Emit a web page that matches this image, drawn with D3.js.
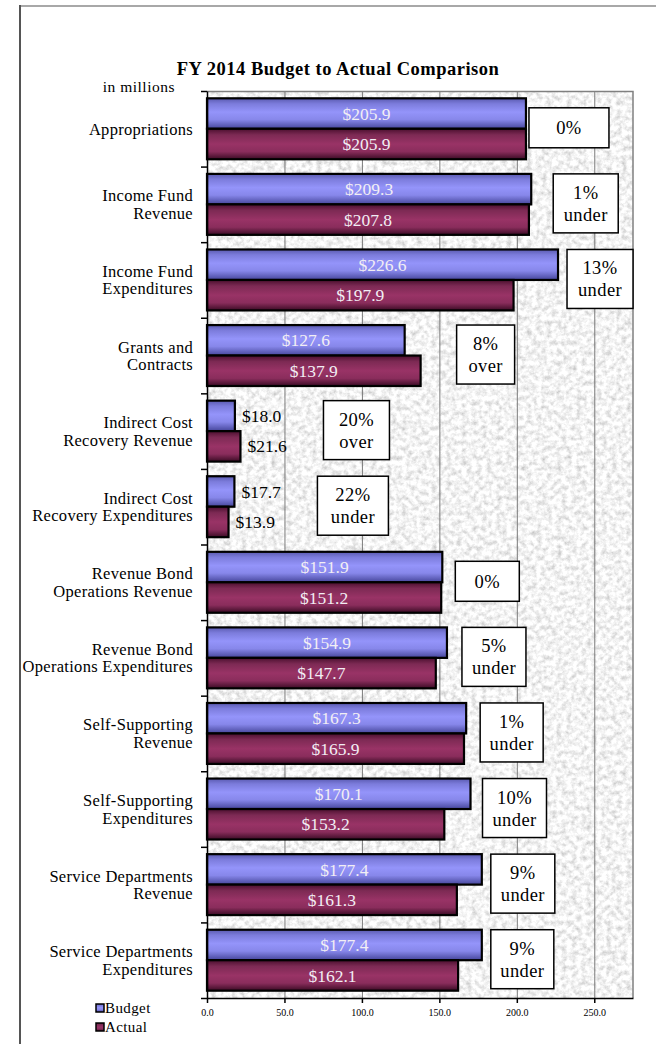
<!DOCTYPE html>
<html>
<head>
<meta charset="utf-8">
<script src="https://cdn.jsdelivr.net/npm/d3@7"></script>
<style>
    body { margin: 0; background: #fff; }
    svg { display: block; font-family: "Liberation Serif", "Times New Roman", serif; }
</style>
</head>
<body>
<div id="chart"></div>
<script>
    // chart data (in millions)
    var categories = [
        "Appropriations",
        "Income Fund|Revenue",
        "Income Fund|Expenditures",
        "Grants and|Contracts",
        "Indirect Cost|Recovery Revenue",
        "Indirect Cost|Recovery Expenditures",
        "Revenue Bond|Operations Revenue",
        "Revenue Bond|Operations Expenditures",
        "Self-Supporting|Revenue",
        "Self-Supporting|Expenditures",
        "Service Departments|Revenue",
        "Service Departments|Expenditures"
    ];
    var budget = [205.9, 209.3, 226.6, 127.6, 18.0, 17.7, 151.9, 154.9, 167.3, 170.1, 177.4, 177.4];
    var actual = [205.9, 207.8, 197.9, 137.9, 21.6, 13.9, 151.2, 147.7, 165.9, 153.2, 161.3, 162.1];
    var variancePct = [0, 1, 13, 8, 20, 22, 0, 5, 1, 10, 9, 9];
    var seriesNames = ["Budget", "Actual"];
    var xTicks = [0, 50, 100, 150, 200, 250];

    // layout only: px gap after longest bar, and width of each note box
    var noteGap = [3, 22, 9, 36, 83, 83, 13, 15, 14, 12, 9, 9];
    var noteW = [80, 65, 66, 58, 66, 71, 64, 64, 63, 64, 64, 63];

    var svgWidth = 656, svgHeight = 1044;
    var margin = { top: 91, left: 207, right: 23, bottom: 46 };
    var chartWidth = svgWidth - margin.left - margin.right;
    var chartHeight = svgHeight - margin.top - margin.bottom;

    var svg = d3.select("#chart").append("svg")
        .attr("width", svgWidth)
        .attr("height", svgHeight);

    var defs = svg.append("defs");

    // granite texture for plot area
    var filt = defs.append("filter").attr("id", "granite")
        .attr("x", 0).attr("y", 0).attr("width", 1).attr("height", 1);
    filt.append("feTurbulence")
        .attr("type", "fractalNoise")
        .attr("baseFrequency", "0.2")
        .attr("numOctaves", 4)
        .attr("seed", 11);
    filt.append("feColorMatrix")
        .attr("type", "matrix")
        .attr("values", "0.8 0 0 0 0.5  0.8 0 0 0 0.5  0.8 0 0 0 0.5  0 0 0 0 1");

    // bar gradients
    function addGrad(id, stops) {
        var g = defs.append("linearGradient").attr("id", id)
            .attr("x1", 0).attr("y1", 0).attr("x2", 0).attr("y2", 1);
        stops.forEach(function (s) {
            g.append("stop").attr("offset", s[0]).attr("stop-color", s[1]);
        });
    }
    addGrad("gBudget", [[0, "#5a5ab0"], [0.18, "#7c7cdc"], [0.45, "#9494fa"], [0.7, "#8787ea"], [1, "#45459a"]]);
    addGrad("gActual", [[0, "#4a0f2e"], [0.2, "#7d2a54"], [0.5, "#993366"], [0.75, "#8a2d5c"], [1, "#3a0b24"]]);
    var fills = ["url(#gBudget)", "url(#gActual)"];

    // outer frame
    svg.append("line").attr("x1", 20).attr("x2", svgWidth).attr("y1", 6).attr("y2", 6)
        .attr("stroke", "#a8a8a8").attr("stroke-width", 2);
    svg.append("line").attr("x1", 20).attr("x2", 20).attr("y1", 5).attr("y2", svgHeight)
        .attr("stroke", "#555").attr("stroke-width", 2);

    // title
    svg.append("text")
        .attr("x", 338).attr("y", 75)
        .attr("text-anchor", "middle")
        .style("font-size", "18.5px").style("font-weight", "bold")
        .style("letter-spacing", "0.5px")
        .text("FY 2014 Budget to Actual Comparison");

    svg.append("text")
        .attr("x", 175).attr("y", 92)
        .attr("text-anchor", "end")
        .style("font-size", "15.5px")
        .style("letter-spacing", "0.5px")
        .text("in millions");

    // scales
    var xScale = d3.scaleLinear().domain([0, 275]).range([0, chartWidth]);
    var yScale = d3.scaleBand().domain(d3.range(categories.length)).range([0, chartHeight]);
    var ySub = d3.scaleBand().domain(seriesNames)
        .range([0, yScale.bandwidth()]).paddingInner(0).paddingOuter(0.24);
    var yEdge = d3.scaleLinear().domain([0, categories.length]).range([0, chartHeight]);

    var chartLayer = svg.append("g")
        .attr("transform", "translate(" + [margin.left, margin.top] + ")");

    // plot background
    chartLayer.append("rect")
        .attr("width", chartWidth).attr("height", chartHeight)
        .attr("filter", "url(#granite)");

    // grid
    chartLayer.append("g")
        .attr("class", "grid-x")
        .attr("transform", "translate(0," + chartHeight + ")")
        .call(d3.axisBottom(xScale).tickValues(xTicks.slice(1))
            .tickSizeInner(-chartHeight).tickSizeOuter(0).tickFormat(""))
        .call(function (g) {
            g.select(".domain").remove();
            g.selectAll("line").attr("stroke", "#7a7a7a");
        });

    // plot border top/right
    chartLayer.append("path")
        .attr("d", "M0,0.5H" + chartWidth + "V" + chartHeight)
        .attr("fill", "none").attr("stroke", "#808080").attr("stroke-width", 1.5);

    // bars
    var rows = categories.map(function (c, i) {
        return { i: i, vals: [budget[i], actual[i]] };
    });

    var gs = chartLayer.selectAll("g.cat")
        .data(rows)
        .enter().append("g")
        .attr("class", "cat")
        .attr("transform", function (d) { return "translate(0," + yScale(d.i) + ")"; });

    gs.selectAll("rect.bar")
        .data(function (d) { return d.vals.map(function (v, k) { return { v: v, k: k }; }); })
        .enter().append("rect")
        .attr("class", "bar")
        .attr("x", 0)
        .attr("y", function (d) { return ySub(seriesNames[d.k]); })
        .attr("width", function (d) { return xScale(d.v); })
        .attr("height", ySub.bandwidth())
        .attr("fill", function (d) { return fills[d.k]; })
        .attr("stroke", "#000")
        .attr("stroke-width", 2.2);

    gs.selectAll("text.val")
        .data(function (d) { return d.vals.map(function (v, k) { return { v: v, k: k }; }); })
        .enter().append("text")
        .attr("class", "val")
        .attr("x", function (d) { return d.v > 60 ? xScale(d.v) / 2 : xScale(d.v) + 7; })
        .attr("y", function (d) { return ySub(seriesNames[d.k]) + ySub.bandwidth() / 2; })
        .attr("dy", "0.35em")
        .attr("text-anchor", function (d) { return d.v > 60 ? "middle" : "start"; })
        .attr("fill", function (d) { return d.v > 60 ? "#f2eef4" : "#000"; })
        .style("font-size", "17.5px")
        .text(function (d) { return "$" + d3.format(".1f")(d.v); });

    // variance notes
    gs.each(function (d) {
        var b = budget[d.i], a = actual[d.i];
        var pct = variancePct[d.i];
        var lines = pct === 0 ? [pct + "%"] : [pct + "%", a > b ? "over" : "under"];
        var w = noteW[d.i];
        var h = lines.length > 1 ? 59 : 40;
        var x0 = xScale(Math.max(a, b)) + noteGap[d.i];
        var yc = yScale.bandwidth() / 2 - 1;
        var g = d3.select(this).append("g").attr("class", "note");
        g.append("rect")
            .attr("x", x0).attr("y", yc - h / 2)
            .attr("width", w).attr("height", h)
            .attr("fill", "#fff").attr("stroke", "#000").attr("stroke-width", 1.5);
        g.selectAll("text").data(lines).enter().append("text")
            .attr("x", x0 + w / 2)
            .attr("y", function (t, j) { return yc + (j - (lines.length - 1) / 2) * 22; })
            .attr("dy", "0.35em")
            .attr("text-anchor", "middle")
            .style("font-size", "18.5px")
            .style("letter-spacing", "0.4px")
            .text(function (t) { return t; });
    });

    // y axis with ticks between categories
    chartLayer.append("g")
        .attr("class", "axis-y")
        .call(d3.axisLeft(yEdge).tickValues(d3.range(categories.length + 1))
            .tickSizeInner(6).tickSizeOuter(0).tickFormat(""))
        .call(function (g) { g.selectAll("path,line").attr("stroke", "#000").attr("stroke-width", 1.5); });

    // category labels
    chartLayer.append("g").selectAll("text.cat-label")
        .data(categories)
        .enter().append("text")
        .attr("class", "cat-label")
        .attr("text-anchor", "end")
        .style("font-size", "16.5px")
        .style("letter-spacing", "0.3px")
        .each(function (c, i) {
            var parts = c.split("|");
            var t = d3.select(this);
            parts.forEach(function (p, j) {
                t.append("tspan")
                    .attr("x", -14)
                    .attr("y", yScale(i) + yScale.bandwidth() / 2 + (j - (parts.length - 1) / 2) * 17.5)
                    .attr("dy", "0.35em")
                    .text(p);
            });
        });

    // x axis
    chartLayer.append("g")
        .attr("class", "axis-x")
        .attr("transform", "translate(0," + chartHeight + ")")
        .call(d3.axisBottom(xScale).tickValues(xTicks)
            .tickSizeInner(5).tickSizeOuter(0).tickPadding(6)
            .tickFormat(d3.format(".1f")))
        .call(function (g) {
            g.selectAll("path,line").attr("stroke", "#000").attr("stroke-width", 1.5);
            g.selectAll("text").style("font-family", "Liberation Serif, serif").style("font-size", "10px").attr("fill", "#000");
        });

    // legend
    var legend = svg.append("g").attr("transform", "translate(96,1008)");
    seriesNames.forEach(function (s, k) {
        var lg = legend.append("g").attr("transform", "translate(0," + (k * 19) + ")");
        lg.append("rect").attr("x", 0).attr("y", -4).attr("width", 8).attr("height", 8)
            .attr("fill", fills[k]).attr("stroke", "#000").attr("stroke-width", 1.5);
        lg.append("text").attr("x", 9).attr("y", 0).attr("dy", "0.35em")
            .style("font-size", "15px").style("letter-spacing", "0.4px").text(s);
    });
</script>
</body>
</html>
